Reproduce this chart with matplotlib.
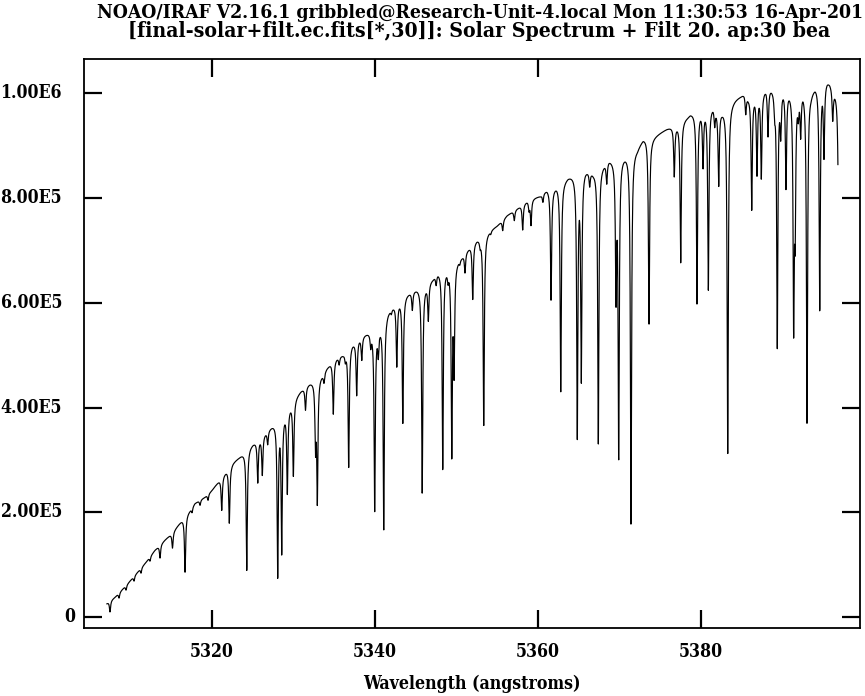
import numpy as np
import matplotlib
matplotlib.use("Agg")
import matplotlib.pyplot as plt
from matplotlib import font_manager
from matplotlib.transforms import blended_transform_factory

# ---------------- data ----------------
# continuum (upper envelope) anchor points: wavelength (A), flux
cont_wave = [5307.1, 5308.1, 5309.7, 5311.8, 5313.0, 5314.2, 5315.1, 5316.3, 5317.3,
             5317.9, 5319.1, 5320.0, 5321.8, 5322.6, 5323.3, 5325.0, 5325.9, 5327.1,
             5329.3, 5330.4, 5330.9, 5332.0, 5333.6, 5334.1, 5334.6, 5335.3, 5336.1,
             5337.2, 5337.6, 5338.0, 5339.0, 5340.6, 5341.6, 5342.2, 5343.1, 5343.9,
             5345.2, 5346.3, 5347.1, 5347.7, 5348.7, 5350.1, 5350.7, 5351.7, 5352.5,
             5353.7, 5355.0, 5356.2, 5357.6, 5358.7, 5360.3, 5361.1, 5361.8, 5362.3,
             5363.3, 5363.7, 5365.8, 5366.8, 5367.9, 5368.7, 5369.2, 5372.2, 5372.9,
             5373.4, 5374.0, 5375.0, 5375.8, 5377.1, 5378.4, 5378.7, 5379.9, 5381.5,
             5382.0, 5382.6, 5384.2, 5384.8, 5385.3, 5385.8, 5386.5, 5387.7, 5388.0,
             5388.6, 5389.7, 5390.1, 5390.9, 5391.8, 5392.5, 5393.5, 5394.0, 5394.9,
             5395.5, 5395.8, 5396.3, 5396.8]
cont_flux = [26000, 38200, 64900, 103100, 128000, 147100, 160400, 185300, 204400,
             217700, 229200, 242600, 280800, 296000, 305600, 332300, 343800, 362900,
             401100, 424000, 433600, 448900, 466000, 477500, 487100, 496600, 504200,
             525300, 529100, 534800, 544400, 559600, 586400, 595900, 609300, 618800,
             630300, 637900, 649400, 662800, 672300, 683800, 691400, 710500, 723900,
             735400, 748700, 767800, 783100, 796500, 806000, 819400, 821300, 828900,
             838500, 844200, 859500, 853800, 867100, 878600, 878600, 897700, 916800,
             920600, 916800, 926400, 934000, 943500, 958800, 964600, 972200, 981700,
             972200, 972200, 991300, 997000, 1002800, 997000, 1000800, 1010400, 1016100,
             1016100, 1012300, 1016100, 1012300, 1012300, 1016100, 1006600, 1019900, 1029500,
             1029500, 1025700, 1012300, 1010000]

# absorption lines: centre wavelength (A) and flux at line bottom
line_wave = [5307.48, 5308.59, 5309.45, 5310.43, 5311.29, 5312.39, 5313.62, 5315.15,
             5316.69, 5317.55, 5318.53, 5319.51, 5321.19, 5322.12, 5324.26, 5325.61,
             5326.17, 5326.83, 5328.06, 5328.55, 5329.24, 5329.98, 5331.47, 5332.70,
             5332.92, 5333.74, 5334.88, 5336.36, 5336.77, 5337.75, 5338.37, 5339.47,
             5339.96, 5340.40, 5341.07, 5342.67, 5343.41, 5344.58, 5345.79, 5346.54,
             5348.31, 5348.96, 5349.42, 5349.70, 5351.04, 5351.99, 5353.34, 5355.67,
             5357.09, 5358.12, 5359.14, 5361.60, 5362.79, 5364.82, 5365.31, 5366.34,
             5367.40, 5368.43, 5369.57, 5369.90, 5371.41, 5373.62, 5376.72, 5377.51,
             5379.51, 5380.25, 5380.90, 5381.68, 5382.17, 5383.28, 5385.49, 5386.22,
             5386.87, 5387.40, 5388.22, 5389.04, 5389.36, 5389.78, 5390.43, 5391.37,
             5391.55, 5391.94, 5392.23, 5393.01, 5394.57, 5395.09, 5396.16, 5396.95,
             5358.90, 5360.60, 5354.20, 5350.40, 5347.50, 5342.00, 5335.60, 5352.90]
line_min = [9550, 36290, 51570, 68760, 84040, 106960, 112690, 131790,
            85380, 200550, 213920, 223470, 204370, 179540, 89200, 258420,
            273130, 332910, 74490, 122240, 238750, 271220, 397280, 328520,
            221180, 450800, 389070, 494100, 287070, 425360, 494120, 522770,
            202080, 509970, 166170, 481320, 371110, 589620, 236270, 571090,
            282110, 655000, 310000, 475590, 660860, 608720, 365380, 739170,
            758270, 740510, 750630, 606810, 430320, 344370, 454010, 829510,
            331770, 834670, 618840, 305030, 175720, 559630, 844220, 678620,
            599170, 866570, 627820, 946020, 828370, 310760, 965120, 780620,
            850520, 842880, 923870, 977920, 517610, 933420, 825120, 562110,
            758270, 974670, 931510, 369970, 587710, 886810, 955570, 420000,
            780000, 795000, 735000, 680000, 640000, 585000, 485000, 715000]

x_ticks = [5320, 5340, 5360, 5380]
y_ticks = [0, 200000, 400000, 600000, 800000, 1000000]
y_tick_labels = ["0", "2.00E5", "4.00E5", "6.00E5", "8.00E5", "1.00E6"]

title_line1 = "NOAO/IRAF V2.16.1 gribbled@Research-Unit-4.local Mon 11:30:53 16-Apr-201"
title_line2 = "[final-solar+filt.ec.fits[*,30]]: Solar Spectrum + Filt 20. ap:30 bea"
x_label = "Wavelength (angstroms)"

# ---------------- build spectrum from the line list ----------------
wave = np.arange(cont_wave[0], cont_wave[-1] + 1e-6, 0.015)
flux = np.interp(wave, cont_wave, cont_flux).astype(float)
gamma = 0.085
for w0, fmin in zip(line_wave, line_min):
    c0 = np.interp(w0, cont_wave, cont_flux)
    depth = 1.0 - fmin / c0
    flux *= 1.0 - depth / (1.0 + ((wave - w0) / gamma) ** 2)

# ---------------- font ----------------
ttf = font_manager.fontManager.ttflist
has_cond = any(f.name == 'DejaVu Serif' and str(f.stretch) == 'condensed' for f in ttf)
if has_cond:
    FONT = dict(family='DejaVu Serif', stretch='condensed', weight='bold')
else:
    FONT = dict(family='Liberation Mono', weight='bold')

W, H = 865, 696
fig = plt.figure(figsize=(W / 100, H / 100), dpi=100)
renderer = fig.canvas.get_renderer()


def fit_size(text, target_px):
    t = fig.text(0, 0, text, fontsize=10, **FONT)
    w = t.get_window_extent(renderer).width
    t.remove()
    return 10.0 * target_px / w


fs = fit_size("5320", 44)
fs_t1 = fit_size(title_line1, 766)
fs_t2 = fit_size(title_line2, 704)

L, R, B, T = 84, 860, 628, 59
ax = fig.add_axes([L / W, 1 - B / H, (R - L) / W, (B - T) / H])
ax.plot(wave, flux, color='black', lw=0.85)

ax.set_xlim(5304.29, 5399.51)
ax.set_ylim(-21010, 1063900 + 1910)

ax.set_xticks(x_ticks)
ax.set_xticklabels([str(v) for v in x_ticks], fontsize=fs, **FONT)
ax.set_yticks(y_ticks)
ax.set_yticklabels([])
ax.minorticks_off()
ax.tick_params(direction='in', length=13, width=1.6, top=True, right=True,
               labeltop=False, labelright=False)
ax.tick_params(axis='x', pad=11)
for s in ax.spines.values():
    s.set_linewidth(1.3)

# y tick labels (IRAF-style placement)
trans = blended_transform_factory(fig.transFigure, ax.transData)
for v, lab in zip(y_ticks, y_tick_labels):
    xr = 75 if lab == "0" else 62
    fig.text(xr / W, v, lab, transform=trans, ha='right', va='center',
             fontsize=fs, **FONT)

ax.set_xlabel(x_label, fontsize=fs, **FONT)
ax.xaxis.set_label_coords(0.5, (H - 684 - (H - B)) / (B - T))
ax.xaxis.label.set_va('center')

fig.text(97 / W, 1 - 13 / H, title_line1, ha='left', va='center', fontsize=fs_t1, **FONT)
fig.text(128 / W, 1 - 31 / H, title_line2, ha='left', va='center', fontsize=fs_t2, **FONT)

fig.savefig("out.png", dpi=100)
